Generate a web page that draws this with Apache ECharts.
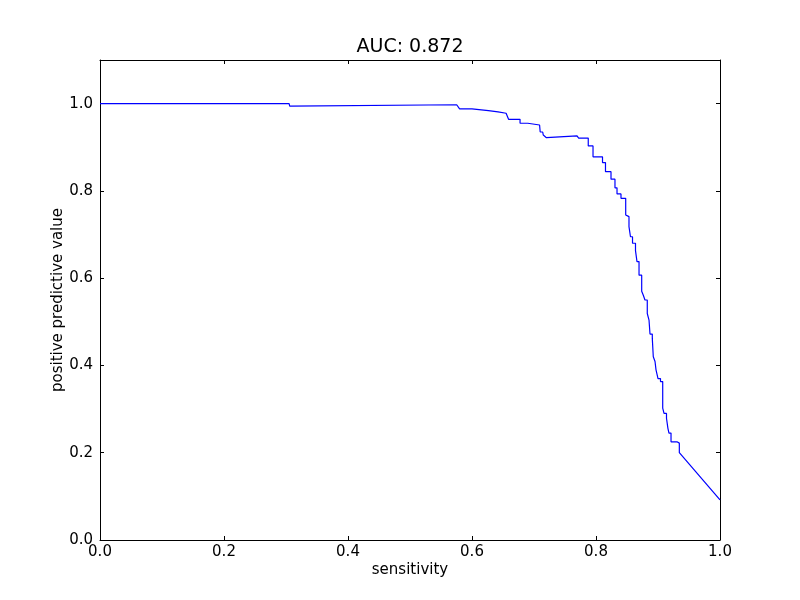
<!DOCTYPE html>
<html>
<head>
<meta charset="utf-8">
<script src="https://cdn.jsdelivr.net/npm/echarts@6/dist/echarts.min.js"></script>
<style>html,body{margin:0;padding:0;background:#fff}#c{width:800px;height:600px}</style>
</head>
<body>
<div id="c"></div>
<script>
const titleText = "AUC: 0.872";
const xLabel = "sensitivity";
const yLabel = "positive predictive value";
const sensitivity = [
  0, 0.305, 0.306, 0.5753, 0.580, 0.600, 0.602, 0.6265, 0.6275, 0.642, 0.643, 0.655, 0.659, 0.6775, 0.6775, 0.690, 0.690, 0.709, 0.710, 0.714, 0.715, 0.720, 0.7694, 0.772, 0.7875, 0.7875, 0.7952, 0.7952,
  0.8105, 0.8105, 0.8153, 0.8153, 0.8242, 0.8242, 0.8306, 0.8306, 0.8339, 0.8339, 0.8403, 0.8403,
  0.8479, 0.8479, 0.8511, 0.8511, 0.8532, 0.8532, 0.8556, 0.8556, 0.8589, 0.8589, 0.8637, 0.8637,
  0.8661, 0.8661, 0.8694, 0.8694, 0.8737, 0.8737, 0.8763, 0.8763, 0.8790, 0.8790, 0.8827, 0.8827,
  0.8855, 0.8855, 0.8871, 0.8871, 0.8908, 0.8908, 0.8924, 0.8924, 0.8952, 0.8952, 0.8968, 0.8968,
  0.9000, 0.9000, 0.9040, 0.9040, 0.9076, 0.9076, 0.9097, 0.9097, 0.9137, 0.9137, 0.9160, 0.9160,
  0.9177, 0.9177, 0.9210, 0.9210, 0.9306, 0.9306, 0.9344, 0.9344, 1.0
];
const ppv = [
  1.0, 1.0, 0.9945, 0.9975, 0.988, 0.988, 0.984, 0.984, 0.981, 0.981, 0.978, 0.978, 0.964, 0.964, 0.955, 0.955, 0.951, 0.951, 0.935, 0.935, 0.928, 0.922, 0.926, 0.921, 0.921, 0.903, 0.903, 0.878,
  0.878, 0.865, 0.865, 0.844, 0.844, 0.827, 0.827, 0.807, 0.807, 0.793, 0.793, 0.783,
  0.783, 0.745, 0.745, 0.741, 0.741, 0.718, 0.718, 0.695, 0.695, 0.680, 0.680, 0.663,
  0.663, 0.638, 0.638, 0.607, 0.607, 0.570, 0.570, 0.561, 0.561, 0.550, 0.550, 0.519,
  0.519, 0.504, 0.504, 0.472, 0.472, 0.462, 0.462, 0.420, 0.420, 0.409, 0.409, 0.390,
  0.390, 0.370, 0.370, 0.363, 0.363, 0.302, 0.302, 0.290, 0.290, 0.279, 0.279, 0.256,
  0.256, 0.245, 0.245, 0.225, 0.225, 0.222, 0.222, 0.200, 0.092
];
const xTicks = [0, 0.2, 0.4, 0.6, 0.8, 1.0];

const font = 'DejaVu Sans';
const chart = echarts.init(document.getElementById('c'), null, {renderer: 'canvas'});
const data = sensitivity.map((s, i) => [s, ppv[i]]);
const lineStyleAxis = {color: '#000', width: 1};
chart.setOption({
  animation: false,
  backgroundColor: '#fff',
  title: {
    text: titleText, left: 405, top: 33, textAlign: 'center',
    textStyle: {fontFamily: font, fontSize: 19, fontWeight: 'normal', color: '#000'}
  },
  grid: {left: 100, right: 80, top: 60, bottom: 60, containLabel: false},
  xAxis: [{
    type: 'value', min: xTicks[0], max: xTicks[xTicks.length - 1], interval: 0.2, position: 'bottom',
    name: xLabel, nameLocation: 'middle', nameGap: 23, nameMoveOverlap: false,
    nameTextStyle: {fontFamily: font, fontSize: 15, color: '#000'},
    axisLine: {show: true, onZero: false, lineStyle: lineStyleAxis},
    axisTick: {show: true, inside: true, length: 4, lineStyle: lineStyleAxis},
    axisLabel: {fontFamily: font, fontSize: 15, color: '#000', margin: 5, formatter: v => v.toFixed(1)},
    splitLine: {show: false}
  }, {
    type: 'value', min: 0, max: 1, interval: 0.2, position: 'top',
    axisLine: {show: true, onZero: false, lineStyle: lineStyleAxis},
    axisTick: {show: true, inside: true, length: 4, lineStyle: lineStyleAxis},
    axisLabel: {show: false}, splitLine: {show: false}
  }],
  yAxis: [{
    type: 'value', min: 0, max: 1.1, interval: 0.2, position: 'left',
    name: yLabel, nameLocation: 'middle', nameGap: 34, nameRotate: 90, nameMoveOverlap: false,
    nameTextStyle: {fontFamily: font, fontSize: 15, color: '#000'},
    axisLine: {show: true, onZero: false, lineStyle: lineStyleAxis},
    axisTick: {show: true, inside: true, length: 4, lineStyle: lineStyleAxis},
    axisLabel: {fontFamily: font, fontSize: 15, color: '#000', margin: 7, showMaxLabel: false, formatter: v => v.toFixed(1)},
    splitLine: {show: false}
  }, {
    type: 'value', min: 0, max: 1.1, interval: 0.2, position: 'right',
    axisLine: {show: true, onZero: false, lineStyle: lineStyleAxis},
    axisTick: {show: true, inside: true, length: 4, lineStyle: lineStyleAxis},
    axisLabel: {show: false}, splitLine: {show: false}
  }],
  series: [{
    type: 'line', xAxisIndex: 0, yAxisIndex: 0, data: data,
    showSymbol: false, symbol: 'none',
    lineStyle: {color: '#0000ff', width: 1.2},
    itemStyle: {color: '#0000ff'}
  }]
});
</script>
</body>
</html>
